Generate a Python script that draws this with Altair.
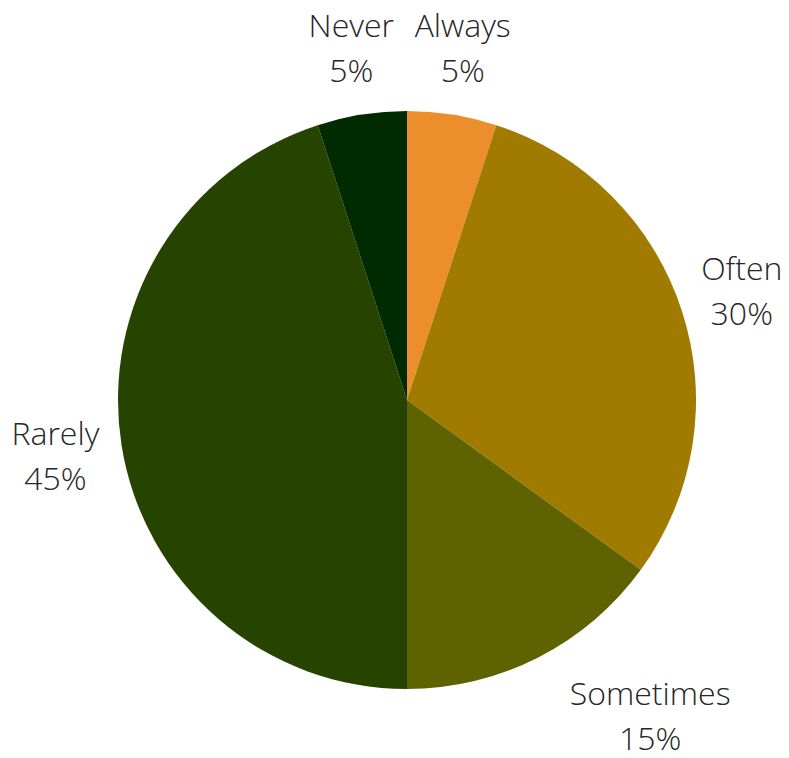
import altair as alt
import pandas as pd

categories = ["Always", "Often", "Sometimes", "Rarely", "Never"]
values = [5, 30, 15, 45, 5]
colors = ["#EC8E2C", "#A07B00", "#5E6200", "#264400", "#002A00"]
order = [1, 2, 3, 4, 5]

df = pd.DataFrame({"cat": categories, "val": values, "ord": order})

cx, cy, R = 399, 392, 289

base = alt.Chart(df).encode(
    theta=alt.Theta("val:Q", stack=True),
    order=alt.Order("ord:Q"),
    x=alt.value(cx),
    y=alt.value(cy),
)

pie = base.mark_arc(outerRadius=R, stroke=None).encode(
    color=alt.Color("cat:N", scale=alt.Scale(domain=categories, range=colors), legend=None)
)

font = dict(font="Open Sans", fontWeight=300, fontSize=32, lineHeight=45,
            color="#262626", lineBreak="\n", baseline="middle", dy=-21,
            align="center")


def labels(names, radius, dx=0):
    cond = " || ".join(f"datum.cat == '{n}'" for n in names)
    return base.transform_calculate(
        t=f"({cond}) ? datum.cat + '\\n' + datum.val + '%' : ''"
    ).mark_text(radius=radius, dx=dx, **font).encode(text="t:N")


lab_a = labels(["Always", "Never", "Rarely"], 356)
lab_b = labels(["Often"], 352)
lab_c = labels(["Sometimes"], 355, dx=82)

chart = alt.layer(pie, lab_a, lab_b, lab_c).properties(
    width=773, height=742, autosize=alt.AutoSizeParams(type="none"), padding=0
).configure_view(stroke=None)

chart.save("out.html", embed_options={"renderer": "svg", "actions": False})
